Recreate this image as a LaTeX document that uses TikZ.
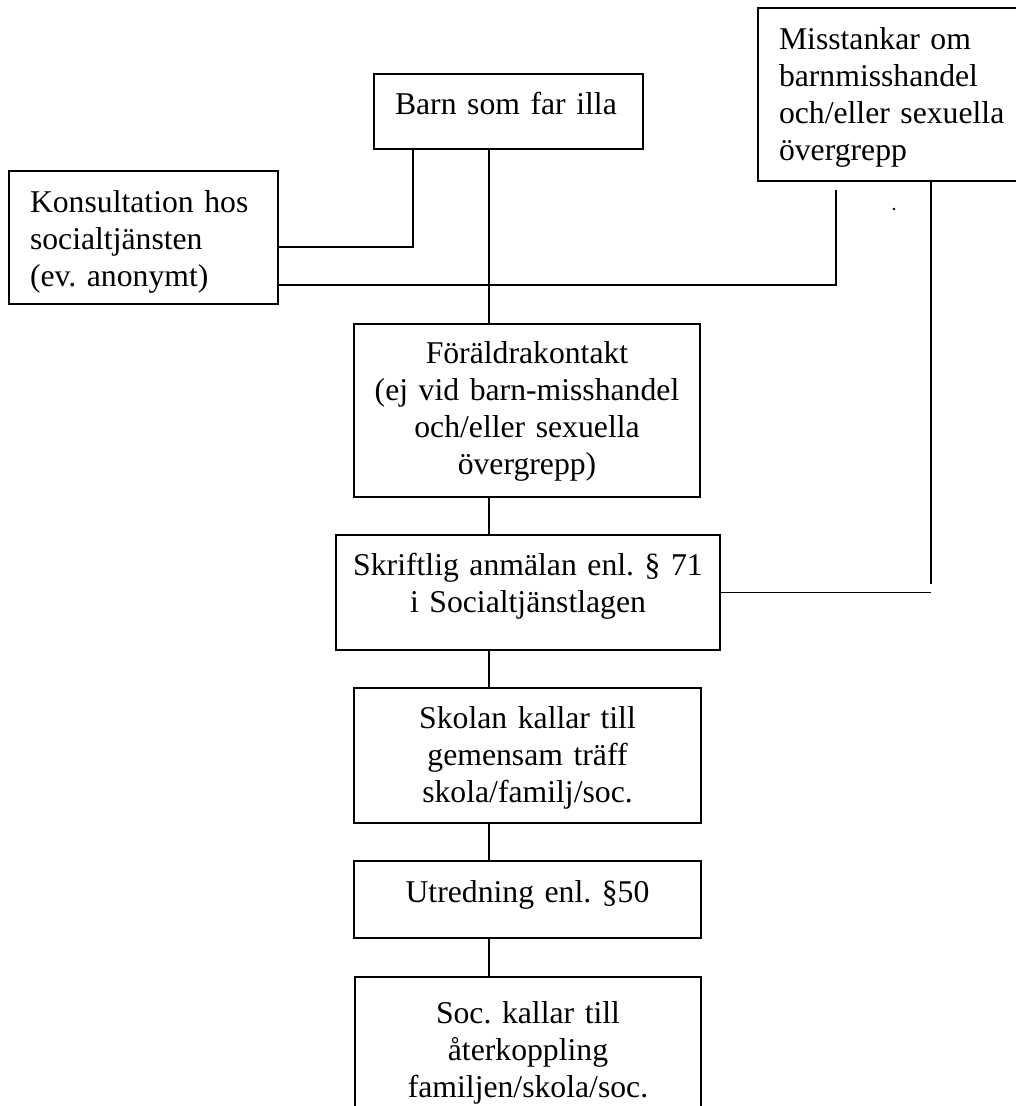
\documentclass[tikz,border=0pt]{standalone}
\usepackage{fontspec}
\setmainfont{Liberation Serif}
\frenchspacing
\begin{document}
\begin{tikzpicture}[x=1pt, y=-1pt,
    box/.style={draw, line width=2.2pt, inner ysep=0pt, outer sep=0pt, anchor=north west,
      font=\fontsize{31.7}{37}\selectfont},
    leftbox/.style={box, align=left, inner xsep=21pt},
    midbox/.style={box, align=center, inner xsep=0pt},
    link/.style={line width=1.8pt}]
  \useasboundingbox (0,0) rectangle (1016,1106);
  \clip (0,0) rectangle (1016,1106);

  % boxes
  \node[leftbox, text width=227pt, text height=40pt, text depth=35pt] (barn) at (374,74) {Barn som far illa};
  \node[leftbox, text width=227pt, text height=41pt, text depth=92pt] (konsult) at (9,171) {Konsultation hos\\socialtjänsten\\(ev. anonymt)};
  \node[leftbox, text width=260pt, text height=41pt, text depth=132pt] (miss) at (758,8) {Misstankar om\\barnmisshandel\\och/eller sexuella\\övergrepp};
  \node[midbox, text width=346pt, text height=39pt, text depth=134pt] (foral) at (354,324) {Föräldrakontakt\\(ej vid barn-misshandel\\och/eller sexuella\\övergrepp)};
  \node[midbox, text width=384pt, text height=40pt, text depth=75pt] (skrift) at (336,535) {Skriftlig anmälan enl. § 71\\i Socialtjänstlagen};
  \node[midbox, text width=347pt, text height=40pt, text depth=95pt] (skolan) at (354,688) {Skolan kallar till\\gemensam träff\\skola/familj/soc.};
  \node[midbox, text width=347pt, text height=41pt, text depth=36pt] (utred) at (354,861) {Utredning enl. §50};
  \node[midbox, text width=346pt, text height=46pt, text depth=110pt] (soc) at (355,977) {Soc. kallar till\\återkoppling\\familjen/skola/soc.};

  % main line
  \coordinate (spine) at ([xshift=115pt]barn.south west);
  \draw[link] (spine) -- (spine |- foral.north);
  \foreach \a/\b in {foral/skrift, skrift/skolan, skolan/utred, utred/soc}
    \draw[link] (spine |- \a.south) -- (spine |- \b.north);

  % side lines
  \draw[link] ([xshift=39pt]barn.south west) |- ([yshift=-9.5pt]konsult.east);
  \coordinate (missfoot) at (836,190);
  \draw[link] ([yshift=-47.5pt]konsult.east) -| (missfoot);
  \coordinate (missend) at (931,584);
  \draw[link] ([xshift=173pt]miss.south west) -- (missend);
  \draw[link] (skrift.east) -- (skrift.east -| missend);
  \fill (894,209) circle (1.3pt);
\end{tikzpicture}
\end{document}
